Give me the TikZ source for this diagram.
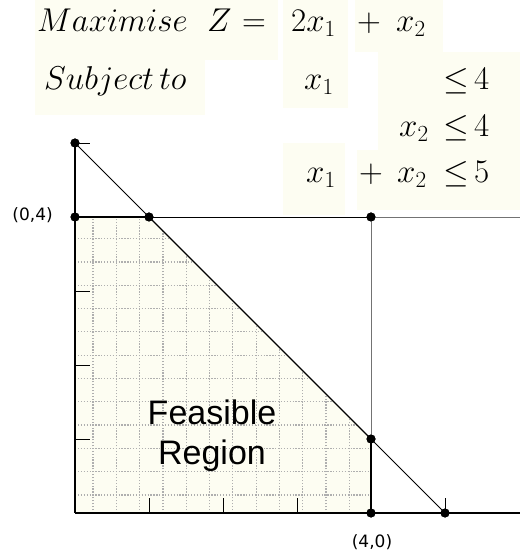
\RequirePackage{fix-cm}
\documentclass[tikz,border=0pt]{standalone}
\usepackage{fontspec}
\newfontfamily\labelfont{DejaVu Sans}
\newfontfamily\regionfont{Liberation Sans}
\definecolor{cream}{RGB}{253,253,242}
\definecolor{griddot}{RGB}{175,175,175}
\begin{document}
\begin{tikzpicture}[x=74pt,y=74pt,
  eq/.style={inner sep=0pt,anchor=base west,font=\fontsize{33}{40}\selectfont},
  pt/.style={circle,fill=black,inner sep=0pt,minimum size=9pt},
  axis/.style={line width=1.3pt,black},
  bound/.style={line width=1.3pt,black},
  cline/.style={line width=0.8pt,black},
  gline/.style={line width=0.8pt,black!55},
  tick/.style={line width=0.8pt,black},
  dotgrid/.style={griddot,line width=1.3pt,dash pattern=on 1.3pt off 1.6pt}]
\useasboundingbox (-75pt,-38pt) rectangle (445pt,513pt);
% backgrounds of the equation pieces
\fill[cream] (-40pt,453pt) rectangle (203pt,513pt);
\fill[cream] (-40pt,398pt) rectangle (130pt,453pt);
\fill[cream] (208pt,405pt) rectangle (273pt,513pt);
\fill[cream] (280pt,461pt) rectangle (368pt,513pt);
\fill[cream] (303pt,363pt) rectangle (445pt,461pt);
\fill[cream] (282pt,303pt) rectangle (445pt,363pt);
\fill[cream] (208pt,298pt) rectangle (270pt,370pt);
% equations
\node[eq] (max) at (-38pt,481pt) {$Maximise$};
\node[eq] (zz) at (132pt,481pt) {$Z$};
\node[eq] (zeq) at (167pt,481pt) {$=$};
\node[eq] (obj1) at (216pt,481pt) {$2x_1$};
\node[eq] (obj2) at (282pt,481pt) {$+$};
\node[eq] (obj3) at (321pt,481pt) {$x_2$};
\node[eq] (subj) at (-31pt,423pt) {$Subject\,to$};
\node[eq] (c1a) at (229pt,423pt) {$x_1$};
\node[eq] (c1le) at (368pt,423pt) {$\le$};
\node[eq] (c1r) at (399pt,423pt) {$4$};
\node[eq] (c2a) at (324pt,376pt) {$x_2$};
\node[eq] (c2le) at (368pt,376pt) {$\le$};
\node[eq] (c2r) at (399pt,376pt) {$4$};
\node[eq] (c3a) at (231pt,330pt) {$x_1$};
\node[eq] (c3p) at (284pt,330pt) {$+$};
\node[eq] (c3b) at (322pt,330pt) {$x_2$};
\node[eq] (c3le) at (368pt,330pt) {$\le$};
\node[eq] (c3r) at (399pt,330pt) {$5$};
% coordinates
\coordinate (O) at (0,0);
\coordinate (xend) at (445pt,0);
\coordinate (hend) at (445pt,296pt);
% feasible region
\fill[cream] (0,0) -- (0,4) -- (1,4) -- (4,1) -- (4,0) -- cycle;
\begin{scope}
  \clip (0,0) -- (0,4) -- (1,4) -- (4,1) -- (4,0) -- cycle;
  \foreach \k in {0,...,11}{
    \draw[dotgrid] ({0.243+0.315*\k},0) -- ({0.243+0.315*\k},4);
    \draw[dotgrid] (0,{0.243+0.315*\k}) -- (4,{0.243+0.315*\k});
  }
\end{scope}
% points
\node[pt] (p05) at (0,5) {};
\node[pt] (p04) at (0,4) {};
\node[pt] (p14) at (1,4) {};
\node[pt] (p44) at (4,4) {};
\node[pt] (p41) at (4,1) {};
\node[pt] (p40) at (4,0) {};
\node[pt] (p50) at (5,0) {};
% lines
\draw[gline] (p44.center) -- (hend);
\draw[cline] (p14.center) -- (p44.center);
\draw[gline] (p41.center) -- (p44.center);
\draw[cline] (p05.center) -- (p14.center);
\draw[cline] (p41.center) -- (p50.center);
\draw[bound] (p04.center) -- (p14.center);
\draw[bound] (p14.center) -- (p41.center);
\draw[bound] (p40.center) -- (p41.center);
\draw[axis] (O) -- (p05.center);
\draw[axis] (O) -- (xend);
% ticks
\foreach \v in {1,2,3}{
  \draw[tick] (0,\v) -- (0.2,\v);
  \draw[tick] (\v,0) -- (\v,0.2);
}
\draw[tick] (p05.center) -- ++(0.2,0);
\draw[tick] (p50.center) -- ++(0,0.2);
% redraw dots on top
\foreach \p in {p05,p04,p14,p44,p41,p40,p50}{\fill (\p) circle (4.5pt);}
% labels
\node[anchor=east,inner sep=0pt,font=\labelfont\fontsize{17}{20}\selectfont] (l04) at ([xshift=-22pt,yshift=2pt]p04.center) {(0,4)};
\node[inner sep=0pt,font=\labelfont\fontsize{17}{20}\selectfont] (l40) at ([xshift=1pt,yshift=-29pt]p40.center) {(4,0)};
\node[anchor=base,inner sep=0pt,font=\regionfont\fontsize{34}{40}\selectfont] (feas) at (137pt,88pt) {Feasible};
\node[anchor=base,inner sep=0pt,font=\regionfont\fontsize{34}{40}\selectfont] (reg) at (137pt,48pt) {Region};
\end{tikzpicture}
\end{document}
